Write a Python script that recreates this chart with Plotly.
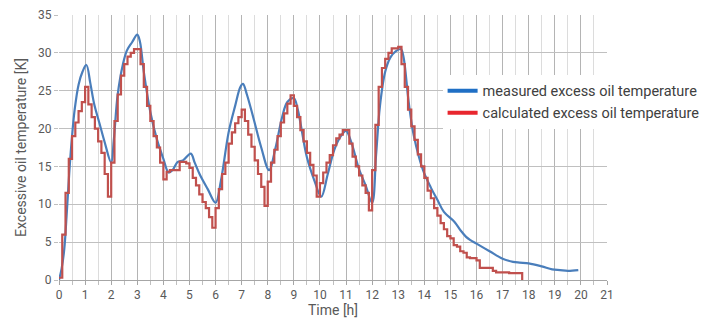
import plotly.graph_objects as go

# measured excess oil temperature (smooth curve), time in hours
measured_t = [0.0, 0.1, 0.2, 0.3, 0.4, 0.5, 0.6, 0.75, 0.9, 1.05, 1.2, 1.35, 1.55, 1.75,
              2.0, 2.1, 2.25, 2.45, 2.6, 2.8, 3.0, 3.1, 3.25, 3.5, 3.75, 4.0, 4.2, 4.35,
              4.55, 4.75, 5.05, 5.2, 5.4, 5.7, 6.0, 6.2, 6.5, 6.75, 6.95, 7.05, 7.2, 7.45,
              7.75, 8.05, 8.3, 8.55, 8.75, 9.0, 9.15, 9.5, 9.8, 10.05, 10.3, 10.55, 10.8,
              11.0, 11.2, 11.5, 11.75, 12.0, 12.15, 12.3, 12.5, 12.7, 12.9, 13.1, 13.2,
              13.4, 13.6, 13.95, 14.25, 14.5, 14.75, 15.15, 15.4, 15.6, 15.75, 16.0, 16.5,
              17.0, 17.4, 17.65, 18.0, 18.5, 18.9, 19.2, 19.5, 19.9]
measured_k = [0.0, 1.5, 4.0, 9.0, 14.5, 19.0, 22.5, 25.8, 27.5, 28.4, 26.0, 23.2, 20.7, 18.2,
              15.5, 18.5, 24.5, 28.5, 30.3, 31.4, 32.4, 31.5, 27.5, 22.2, 18.6, 16.0, 14.2, 14.5,
              15.6, 15.8, 16.7, 15.5, 13.9, 12.0, 10.2, 13.0, 19.5, 23.0, 25.5, 25.9, 24.5, 21.4,
              17.5, 14.5, 17.5, 21.5, 23.5, 24.0, 22.5, 16.2, 13.0, 11.0, 14.0, 17.2, 19.0,
              19.7, 18.2, 14.6, 12.5, 10.2, 16.5, 23.0, 27.5, 29.4, 30.2, 30.5, 29.5,
              23.5, 19.0, 14.5, 12.2, 10.6, 9.0, 7.7, 6.5, 5.7, 5.3, 4.8, 3.8,
              2.8, 2.4, 2.3, 2.2, 1.8, 1.4, 1.3, 1.2, 1.3]

# calculated excess oil temperature (stepped, one value every 0.125 h)
calc_step_h = 0.125
calc_k = [0.3, 6.0, 11.5, 16.0, 19.0, 20.8, 22.3, 23.5,               # 0 - 0.875
          25.5, 23.2, 21.5, 20.0, 18.3, 16.8, 14.0, 11.0,             # 1 - 1.875
          15.5, 21.0, 24.5, 27.0, 28.5, 29.5, 30.0, 30.5,             # 2
          30.5, 28.5, 25.5, 23.0, 21.0, 19.0, 17.5, 15.5,             # 3
          13.3, 14.3, 14.5, 14.5, 14.5, 15.6, 15.6, 15.4,             # 4
          14.8, 13.5, 12.5, 11.3, 10.3, 9.5, 8.3, 6.9,                # 5
          9.5, 12.0, 14.0, 15.5, 18.0, 19.5, 20.7, 21.5,              # 6
          22.5, 21.0, 19.2, 17.6, 15.8, 14.0, 12.3, 9.8,              # 7
          13.0, 15.5, 17.2, 19.0, 20.8, 22.0, 23.3, 24.4,             # 8
          23.0, 21.5, 19.8, 18.3, 16.8, 15.2, 13.8, 11.0,             # 9
          12.8, 14.2, 15.5, 16.5, 17.8, 18.7, 19.2, 19.8,             # 10
          19.8, 18.0, 16.3, 15.0, 13.8, 12.5, 11.5, 9.2,              # 11
          14.5, 20.5, 25.5, 28.0, 29.2, 30.0, 30.6, 30.6,             # 12
          30.8, 28.5, 25.5, 22.5, 20.3, 18.5, 16.6, 15.0,             # 13
          13.5, 11.8, 10.8, 9.5, 8.5, 7.5, 6.7, 5.8,                  # 14
          5.5, 4.6, 4.4, 3.8, 3.6, 3.0, 2.9, 2.9,                     # 15
          2.6, 1.6, 1.6, 1.6, 1.6, 1.2, 1.0, 1.0,                     # 16
          1.0, 1.0, 0.9, 0.9, 0.9, 0.9,                               # 17 - 17.625
          0.0]                                                        # 17.75
calc_t = [i * calc_step_h for i in range(len(calc_k))]

x_ticks = list(range(0, 22))
y_ticks = [0, 5, 10, 15, 20, 25, 30, 35]

FONT = "Liberation Sans Narrow, Roboto, Liberation Sans, sans-serif"
TXT = "#595959"

fig = go.Figure()

fig.add_trace(go.Scatter(
    x=measured_t, y=measured_k, mode="lines", line_shape="spline",
    line=dict(color="#4a7ebb", width=2.2), showlegend=False, hoverinfo="x+y"
))
fig.add_trace(go.Scatter(
    x=calc_t, y=calc_k, mode="lines", line_shape="hv",
    line=dict(color="#c0504d", width=2.2), showlegend=False, hoverinfo="x+y"
))

# legend entries (brighter colours as in the original)
fig.add_trace(go.Scatter(x=[None], y=[None], mode="lines", name="measured excess oil temperature",
                         line=dict(color="#1f6fc5", width=4)))
fig.add_trace(go.Scatter(x=[None], y=[None], mode="lines", name="calculated excess oil temperature",
                         line=dict(color="#e8262e", width=4)))

# the page body has an 8px margin, so the figure is a bit smaller than the window
fig.update_layout(
    width=701, height=314,
    margin=dict(l=51, r=102, t=7, b=42, autoexpand=False),
    paper_bgcolor="white", plot_bgcolor="white",
    font=dict(family=FONT, size=12, color=TXT),
    legend=dict(
        x=0.70, y=0.774, xanchor="left", yanchor="top",
        bgcolor="white", font=dict(size=14.5, color="#404040"),
        itemwidth=30, tracegroupgap=0
    ),
    xaxis=dict(
        range=[0, 21], tickvals=x_ticks, ticks="outside", ticklen=4, tickcolor="#a6a6a6",
        showgrid=True, gridcolor="#b4b4b4", gridwidth=1,
        minor=dict(dtick=0.5, showgrid=True, gridcolor="#dcdcdc", ticks="outside",
                   ticklen=4, tickcolor="#bfbfbf"),
        showline=True, linecolor="#a6a6a6", zeroline=False, automargin=False,
        title=dict(text="Time [h]", font=dict(size=14, color=TXT), standoff=2),
        tickfont=dict(size=12, color=TXT)
    ),
    yaxis=dict(
        range=[0, 35], tickvals=y_ticks, ticks="outside", ticklen=4, tickcolor="#bfbfbf",
        showgrid=True, gridcolor="#c0c0c0", gridwidth=1,
        showline=False, zeroline=False, automargin=False,
        title=dict(text="Excessive oil temperature [K]", font=dict(size=14, color=TXT), standoff=8),
        tickfont=dict(size=12, color=TXT)
    ),
)

fig.write_html("out.html")
